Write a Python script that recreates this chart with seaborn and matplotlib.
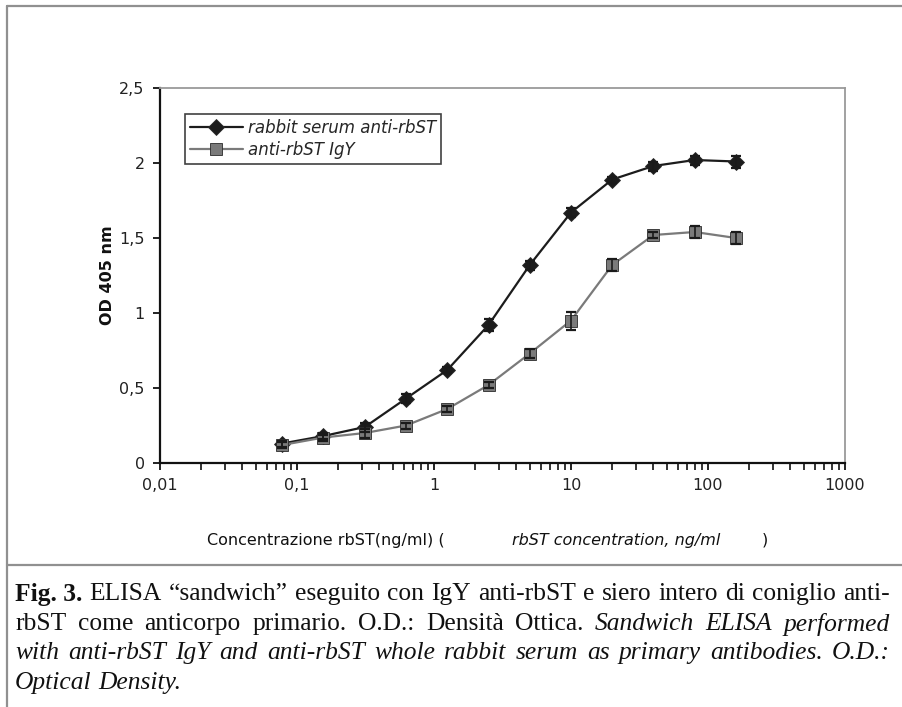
"""
Curva ELISA sandwich: OD 405 nm vs concentrazione rbST
"""

import pandas as pd
import matplotlib.pyplot as plt
import seaborn as sns
import numpy as np
from matplotlib.lines import Line2D

sns.set_style("ticks")
plt.rcParams['font.family'] = ['DejaVu Sans']

# Dati
concentrazioni = [0.078, 0.156, 0.3125, 0.625, 1.25, 2.5, 5, 10, 20, 40, 80, 160]
od_siero = [0.13, 0.18, 0.24, 0.43, 0.62, 0.92, 1.32, 1.67, 1.89, 1.98, 2.02, 2.01]
err_siero = [0.02, 0.02, 0.03, 0.03, 0.02, 0.04, 0.03, 0.03, 0.02, 0.03, 0.03, 0.04]
od_igy = [0.12, 0.17, 0.20, 0.25, 0.36, 0.52, 0.73, 0.95, 1.32, 1.52, 1.54, 1.50]
err_igy = [0.02, 0.02, 0.03, 0.02, 0.02, 0.02, 0.03, 0.06, 0.04, 0.02, 0.04, 0.04]

serie = ["rabbit serum anti-rbST", "anti-rbST IgY"]
x_ticks = [0.01, 0.1, 1, 10, 100, 1000]
x_labels = ["0,01", "0,1", "1", "10", "100", "1000"]
y_ticks = [0, 0.5, 1, 1.5, 2, 2.5]
y_labels = ["0", "0,5", "1", "1,5", "2", "2,5"]

df = pd.DataFrame({
    "conc": concentrazioni * 2,
    "od": od_siero + od_igy,
    "err": err_siero + err_igy,
    "serie": [serie[0]] * len(concentrazioni) + [serie[1]] * len(concentrazioni),
})

colori = {serie[0]: "#1c1c1c", serie[1]: "#7a7a7a"}
marker = {serie[0]: "D", serie[1]: "s"}

fig = plt.figure(figsize=(9.03, 7.07), dpi=100)
W, H = 903, 707
ax = fig.add_axes([160 / W, 1 - 463 / H, 685 / W, 375 / H])

sns.lineplot(data=df, x="conc", y="od", hue="serie", style="serie",
             palette=colori, markers=marker, dashes=False, ax=ax,
             markersize=8, linewidth=1.6, markeredgecolor="#2a2a2a",
             markeredgewidth=0.6, legend="full", zorder=3)

for s in serie:
    d = df[df["serie"] == s]
    ax.errorbar(d["conc"], d["od"], yerr=d["err"], fmt="none",
                ecolor="#1a1a1a", elinewidth=1.2, capsize=3.5, capthick=1.6,
                zorder=4)

ax.set_xscale("log")
ax.set_xlim(0.01, 1000)
ax.set_ylim(0, 2.5)
ax.set_xticks(x_ticks)
ax.set_xticklabels(x_labels, fontsize=11.5, color="#222222")
ax.set_yticks(y_ticks)
ax.set_yticklabels(y_labels, fontsize=11.5, color="#222222")
ax.tick_params(axis="both", which="major", direction="out", length=5,
               width=1.3, color="#111111", pad=6)
ax.tick_params(axis="x", which="minor", direction="out", length=5,
               width=1.2, color="#111111")
ax.set_xlabel("")
ax.set_ylabel("")

for lato in ["left", "bottom"]:
    ax.spines[lato].set_color("#111111")
    ax.spines[lato].set_linewidth(1.6)
for lato in ["top", "right"]:
    ax.spines[lato].set_visible(True)
    ax.spines[lato].set_color("#9a9a9a")
    ax.spines[lato].set_linewidth(1.3)

leg = ax.legend(loc="upper left", bbox_to_anchor=(0.036, 0.93),
                frameon=True, fancybox=False, handlelength=3.2,
                borderpad=0.3, labelspacing=0.2, handletextpad=0.3,
                borderaxespad=0, prop={"style": "italic", "size": 12})
leg.get_frame().set_edgecolor("#111111")
leg.get_frame().set_linewidth(1.2)

# Etichette assi
fig.text(108 / W, 1 - 275 / H, "OD 405 nm", rotation=90, fontsize=11.5,
         fontweight="bold", ha="center", va="center", color="#111111")
fig.text(207 / W, 1 - 540 / H, "Concentrazione rbST(ng/ml) (", fontsize=11.5,
         ha="left", va="center", color="#111111")
fig.text(512 / W, 1 - 540 / H, "rbST concentration, ng/ml", fontsize=11.5,
         fontstyle="italic", ha="left", va="center", color="#111111")
fig.text(762 / W, 1 - 540 / H, ")", fontsize=11.5, ha="left", va="center",
         color="#111111")

# Cornice
grigio = "#909090"
fig.add_artist(Line2D([7 / W, 1], [1 - 6 / H, 1 - 6 / H], color=grigio, lw=1.6,
                      transform=fig.transFigure))
fig.add_artist(Line2D([7 / W, 7 / W], [0, 1 - 6 / H], color=grigio, lw=1.6,
                      transform=fig.transFigure))
fig.add_artist(Line2D([7 / W, 1], [1 - 565 / H, 1 - 565 / H], color=grigio,
                      lw=1.6, transform=fig.transFigure))

# Didascalia giustificata
righe = [
    ([("Fig. 3.", "bold", "normal")] +
     [(w, "normal", "normal") for w in
      "ELISA “sandwich” eseguito con IgY anti-rbST e siero intero di coniglio anti-".split()], True),
    ([(w, "normal", "normal") for w in
      "rbST come anticorpo primario. O.D.: Densità Ottica.".split()] +
     [(w, "normal", "italic") for w in "Sandwich ELISA performed".split()], True),
    ([(w, "normal", "italic") for w in
      "with anti-rbST IgY and anti-rbST whole rabbit serum as primary antibodies. O.D.:".split()], True),
    ([(w, "normal", "italic") for w in "Optical Density.".split()], False),
]
y_righe = [594, 624, 653, 683]
x0, x1 = 15, 890
famiglia = "Liberation Serif"
renderer = fig.canvas.get_renderer()


def larghezza(testo, peso, stile, fs):
    t = fig.text(0, 0, testo, fontsize=fs, fontweight=peso, fontstyle=stile,
                 family=famiglia)
    w = t.get_window_extent(renderer).width
    t.remove()
    return w


# dimensione del carattere scelta per riempire la riga piu' lunga
fs0 = 16
sp0 = larghezza("a b", "normal", "normal", fs0) - larghezza("ab", "normal", "normal", fs0)
naturali = []
for parole, giust in righe:
    if giust:
        tot = sum(larghezza(p, pe, st, fs0) for p, pe, st in parole)
        naturali.append(tot + sp0 * (len(parole) - 1))
fs = fs0 * (x1 - x0) / max(naturali) * 0.99

spazio = larghezza("a b", "normal", "normal", fs) - larghezza("ab", "normal", "normal", fs)
for (parole, giust), yp in zip(righe, y_righe):
    larg = [larghezza(p, pe, st, fs) for p, pe, st in parole]
    if giust and len(parole) > 1:
        gap = (x1 - x0 - sum(larg)) / (len(parole) - 1)
    else:
        gap = spazio
    x = x0
    for (p, pe, st), w in zip(parole, larg):
        fig.text(x / W, 1 - yp / H, p, fontsize=fs, fontweight=pe,
                 fontstyle=st, family=famiglia, ha="left", va="center",
                 color="#111111")
        x += w + gap

plt.savefig("out.png", dpi=100)
plt.close()
